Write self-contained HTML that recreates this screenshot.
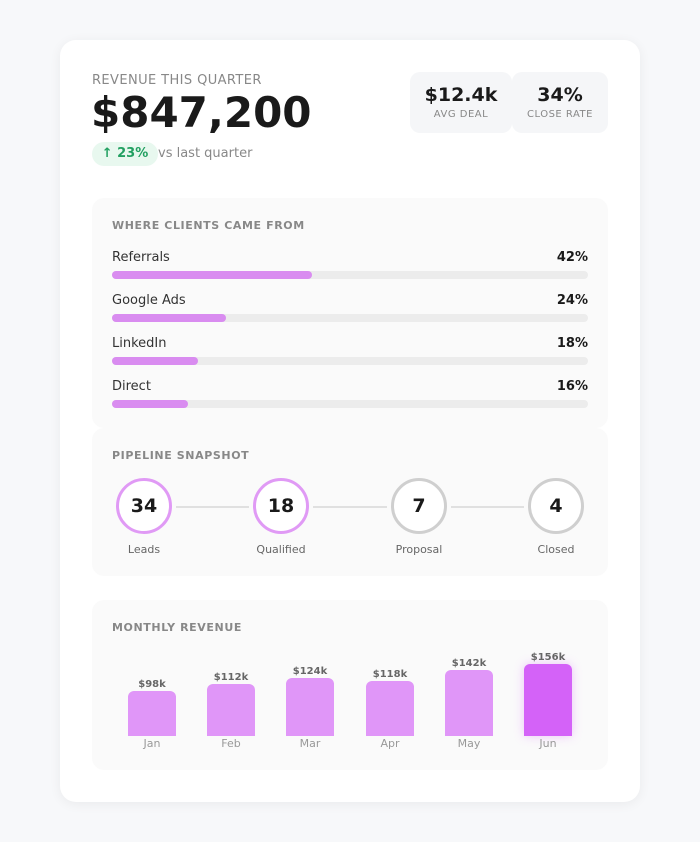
<!DOCTYPE html>
<html><head><meta charset="utf-8"><style>
*{margin:0;padding:0;box-sizing:border-box}
body{width:700px;height:842px;background:#f7f8fa;font-family:"DejaVu Sans","Liberation Sans",sans-serif;position:relative;overflow:hidden;color:#1a1a1a}
.a{position:absolute;white-space:nowrap}
.card{position:absolute;left:60px;top:40px;width:580px;height:762px;background:#fff;border-radius:16px;box-shadow:0 2px 12px rgba(0,0,0,0.06)}
.sec{position:absolute;left:92px;width:516px;background:#fafafa;border-radius:12px}
.t{font-size:11px;font-weight:bold;letter-spacing:0.6px;color:#888}
.lab{font-size:13px;color:#333}
.pct{font-size:13px;font-weight:bold;color:#1a1a1a;text-align:right}
.track{position:absolute;left:112px;width:476px;height:8px;background:#ececec;border-radius:4px}
.fill{height:8px;background:#d98cf0;border-radius:4px}
.c{position:absolute;width:56px;height:56px;border-radius:50%;background:#fff;border:3px solid #e09af5;font-size:19px;font-weight:bold;display:flex;align-items:center;justify-content:center}
.c.g{border-color:#cfcfcf}
.cl{font-size:11px;color:#666;text-align:center;width:100px}
.ln{position:absolute;height:2px;background:#e0e0e0;top:506px}
.bar{position:absolute;width:48px;background:#e096f8;border-radius:6px 6px 0 0}
.bv{font-size:10px;font-weight:bold;color:#666;text-align:center;width:80px}
.bm{font-size:11px;color:#999;text-align:center;width:80px}
.box{position:absolute;top:72px;height:61px;background:#f5f6f8;border-radius:10px;text-align:center}
</style></head><body>
<div class="card"></div>
<div class="a" style="left:92px;top:73px;font-size:13px;color:#888;letter-spacing:0.4px">REVENUE THIS QUARTER</div>
<div class="a" style="left:91px;top:88px;font-size:42px;font-weight:bold;color:#1a1a1a">$847,200</div>
<div class="a" style="left:92px;top:142px;width:66px;height:24px;border-radius:12px;background:#e8f8ef;color:#22a061;font-size:13px;font-weight:bold;line-height:24px;text-align:center">↑ 23%</div>
<div class="a" style="left:158px;top:146px;font-size:13px;color:#888">vs last quarter</div>
<div class="box" style="left:410px;width:102px"><div style="font-size:19px;font-weight:bold;margin-top:12px">$12.4k</div><div style="font-size:10px;color:#888;letter-spacing:0.5px;margin-top:3px">AVG DEAL</div></div>
<div class="box" style="left:512px;width:96px"><div style="font-size:19px;font-weight:bold;margin-top:12px">34%</div><div style="font-size:10px;color:#888;letter-spacing:0.5px;margin-top:3px">CLOSE RATE</div></div>

<div class="sec" style="top:198px;height:230px"></div>
<div class="a t" style="left:112px;top:219px">WHERE CLIENTS CAME FROM</div>
<div class="a lab" style="left:112px;top:250px">Referrals</div><div class="a pct" style="right:112px;top:250px">42%</div>
<div class="track" style="top:271px"><div class="fill" style="width:200px"></div></div>
<div class="a lab" style="left:112px;top:293px">Google Ads</div><div class="a pct" style="right:112px;top:293px">24%</div>
<div class="track" style="top:314px"><div class="fill" style="width:114px"></div></div>
<div class="a lab" style="left:112px;top:336px">LinkedIn</div><div class="a pct" style="right:112px;top:336px">18%</div>
<div class="track" style="top:357px"><div class="fill" style="width:86px"></div></div>
<div class="a lab" style="left:112px;top:379px">Direct</div><div class="a pct" style="right:112px;top:379px">16%</div>
<div class="track" style="top:400px"><div class="fill" style="width:76px"></div></div>

<div class="sec" style="top:428px;height:148px"></div>
<div class="a t" style="left:112px;top:449px">PIPELINE SNAPSHOT</div>
<div class="ln" style="left:176px;width:73px"></div>
<div class="ln" style="left:313px;width:74px"></div>
<div class="ln" style="left:451px;width:73px"></div>
<div class="c" style="left:116px;top:478px">34</div>
<div class="c" style="left:253px;top:478px">18</div>
<div class="c g" style="left:391px;top:478px">7</div>
<div class="c g" style="left:528px;top:478px">4</div>
<div class="a cl" style="left:94px;top:543px">Leads</div>
<div class="a cl" style="left:231px;top:543px">Qualified</div>
<div class="a cl" style="left:369px;top:543px">Proposal</div>
<div class="a cl" style="left:506px;top:543px">Closed</div>

<div class="sec" style="top:600px;height:170px"></div>
<div class="a t" style="left:112px;top:621px">MONTHLY REVENUE</div>
<div class="bar" style="left:128px;top:691px;height:45px"></div>
<div class="bar" style="left:207px;top:684px;height:52px"></div>
<div class="bar" style="left:286px;top:678px;height:58px"></div>
<div class="bar" style="left:366px;top:681px;height:55px"></div>
<div class="bar" style="left:445px;top:670px;height:66px"></div>
<div class="bar" style="left:524px;top:664px;height:72px;background:#d462f8;box-shadow:0 0 10px rgba(212,98,248,0.35)"></div>
<div class="a bv" style="left:112px;top:679px">$98k</div>
<div class="a bv" style="left:191px;top:672px">$112k</div>
<div class="a bv" style="left:270px;top:666px">$124k</div>
<div class="a bv" style="left:350px;top:669px">$118k</div>
<div class="a bv" style="left:429px;top:658px">$142k</div>
<div class="a bv" style="left:508px;top:652px">$156k</div>
<div class="a bm" style="left:112px;top:737px">Jan</div>
<div class="a bm" style="left:191px;top:737px">Feb</div>
<div class="a bm" style="left:270px;top:737px">Mar</div>
<div class="a bm" style="left:350px;top:737px">Apr</div>
<div class="a bm" style="left:429px;top:737px">May</div>
<div class="a bm" style="left:508px;top:737px">Jun</div>
</body></html>
